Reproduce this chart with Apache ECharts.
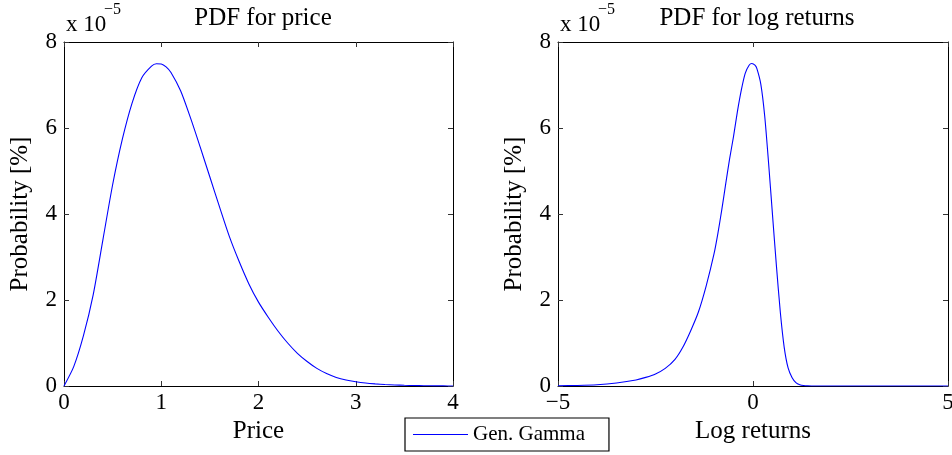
<!DOCTYPE html>
<html>
<head>
<meta charset="utf-8">
<script src="https://cdn.jsdelivr.net/npm/echarts@6/dist/echarts.min.js"></script>
<style>
html,body{margin:0;padding:0;background:#fff;}
#chart{width:952px;height:455px;}
</style>
</head>
<body>
<div id="chart"></div>
<script>
// Left panel: price (x) and PDF (units of 1e-5)
var priceX = [0,0.1,0.2,0.3,0.4,0.5,0.6,0.7,0.8,0.9,0.95,1.0,1.05,1.1,1.2,1.3,1.4,1.5,1.6,1.7,1.8,1.9,2.0,2.1,2.2,2.3,2.4,2.5,2.6,2.7,2.8,2.9,3.0,3.1,3.2,3.3,3.4,3.5,3.6,3.7,3.8,3.9,4.0];
var pricePdf = [0,0.45,1.17,2.12,3.4,4.68,5.74,6.58,7.17,7.44,7.495,7.49,7.42,7.29,6.86,6.24,5.56,4.86,4.16,3.48,2.9,2.38,1.95,1.6,1.28,1.0,0.76,0.57,0.41,0.29,0.2,0.14,0.1,0.07,0.05,0.035,0.025,0.016,0.01,0.006,0.004,0.002,0.001];
// Right panel: log returns (x) and PDF (units of 1e-5)
var logX = [-5,-4.5,-4,-3.5,-3,-2.75,-2.5,-2.25,-2,-1.8,-1.6,-1.4,-1.2,-1.0,-0.9,-0.8,-0.7,-0.6,-0.5,-0.4,-0.3,-0.2,-0.1,-0.03,0.05,0.1,0.2,0.3,0.4,0.5,0.6,0.7,0.8,0.9,1.0,1.1,1.2,1.3,1.4,1.5,5];
var logPdf = [0.005,0.012,0.028,0.07,0.14,0.2,0.28,0.41,0.62,0.9,1.28,1.72,2.33,3.07,3.55,4.1,4.7,5.28,5.8,6.38,6.88,7.27,7.46,7.5,7.46,7.38,7.02,6.28,5.18,3.98,2.8,1.72,0.9,0.42,0.2,0.08,0.03,0.01,0.003,0,0];
var priceTicks = {min:0, max:4, interval:1};
var logTicks = {min:-5, max:5, interval:5};
var yTicks = {min:0, max:8, interval:2};
var titles = ['PDF for price','PDF for log returns'];
var xNames = ['Price','Log returns'];
var yName = 'Probability [%]';
var seriesName = 'Gen. Gamma';

function pairs(xs, ys){ return xs.map(function(x,i){ return [x, ys[i]]; }); }
var FONT = 'Liberation Serif';
var fmt = function(v){ return String(v).replace('-', '\u2212'); };

function xAx(grid, t, name, pos){
  var main = pos === 'bottom';
  return {
    type:'value', gridIndex:grid, position:pos, min:t.min, max:t.max, interval:t.interval,
    name: main ? name : '', nameLocation:'middle', nameGap:33,
    nameTextStyle:{fontFamily:FONT, fontSize:25, color:'#000'},
    axisLine:{show:true, onZero:false, lineStyle:{color:'#000', width:1}},
    axisTick:{show:true, inside:true, length:5, lineStyle:{color:'#333'}},
    axisLabel:{show:main, fontFamily:FONT, fontSize:23, color:'#000', margin:5, formatter:fmt},
    splitLine:{show:false}
  };
}
function yAx(grid, pos){
  var main = pos === 'left';
  return {
    type:'value', gridIndex:grid, position:pos, min:yTicks.min, max:yTicks.max, interval:yTicks.interval,
    name: main ? yName : '', nameLocation:'middle', nameGap:31,
    nameTextStyle:{fontFamily:FONT, fontSize:25, color:'#000'},
    axisLine:{show:true, onZero:false, lineStyle:{color:'#000', width:1}},
    axisTick:{show:true, inside:true, length:5, lineStyle:{color:'#333'}},
    axisLabel:{show:main, fontFamily:FONT, fontSize:23, color:'#000', margin:7},
    splitLine:{show:false}
  };
}

var chart = echarts.init(document.getElementById('chart'), null, {renderer:'canvas'});
chart.setOption({
  backgroundColor:'#fff',
  animation:false,
  title:[
    {text:titles[0], left:258, top:1, textAlign:'center', textStyle:{fontFamily:FONT, fontSize:25, fontWeight:'normal', color:'#000'}},
    {text:titles[1], left:752, top:1, textAlign:'center', textStyle:{fontFamily:FONT, fontSize:25, fontWeight:'normal', color:'#000'}}
  ],
  grid:[
    {left:64, top:42, width:389, height:344, outerBoundsMode:'none', containLabel:false},
    {left:558, top:42, width:390, height:344, outerBoundsMode:'none', containLabel:false}
  ],
  xAxis:[xAx(0, priceTicks, xNames[0], 'bottom'), xAx(0, priceTicks, '', 'top'),
         xAx(1, logTicks, xNames[1], 'bottom'), xAx(1, logTicks, '', 'top')],
  yAxis:[yAx(0,'left'), yAx(0,'right'), yAx(1,'left'), yAx(1,'right')],
  legend:{
    left:405, top:418, orient:'horizontal', data:[seriesName],
    icon:'rect', itemWidth:55, itemHeight:1.2,
    borderColor:'#000', borderWidth:1.2, borderRadius:0, padding:[6,24,6,8],
    textStyle:{fontFamily:FONT, fontSize:21, color:'#000'}
  },
  graphic:[
    {type:'text', left:66, top:13, style:{text:'x 10', font:'23px "Liberation Serif"', fill:'#000'}},
    {type:'text', left:104, top:2, style:{text:'\u22125', font:'16px "Liberation Serif"', fill:'#000'}},
    {type:'text', left:560, top:13, style:{text:'x 10', font:'23px "Liberation Serif"', fill:'#000'}},
    {type:'text', left:598, top:2, style:{text:'\u22125', font:'16px "Liberation Serif"', fill:'#000'}}
  ],
  series:[
    {name:seriesName, type:'line', xAxisIndex:0, yAxisIndex:0, data:pairs(priceX, pricePdf), symbol:'none', smooth:0.25,
     lineStyle:{color:'#0000ff', width:1.1}, itemStyle:{color:'#0000ff'}},
    {name:seriesName, type:'line', xAxisIndex:2, yAxisIndex:2, data:pairs(logX, logPdf), symbol:'none', smooth:0.25,
     lineStyle:{color:'#0000ff', width:1.1}, itemStyle:{color:'#0000ff'}}
  ]
});
</script>
</body>
</html>
